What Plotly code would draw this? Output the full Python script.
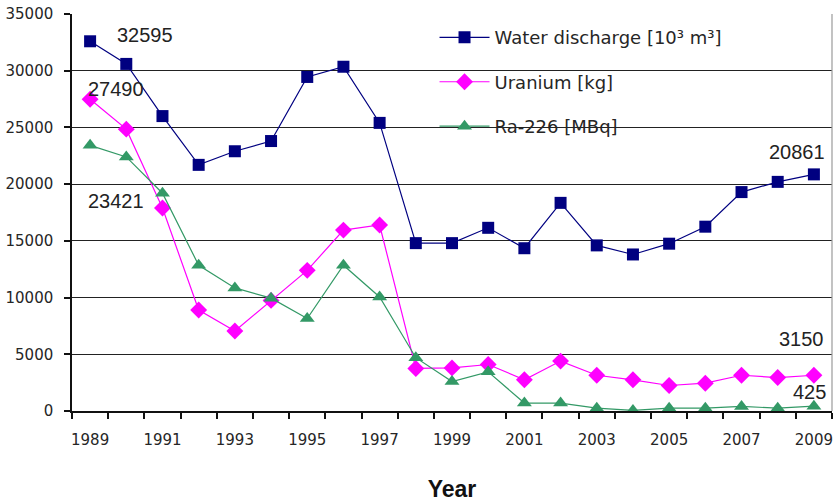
import plotly.graph_objects as go

# Annual discharge and load figures, 1989-2009
years = list(range(1989, 2010))
water_discharge = [32595, 30600, 26000, 21700, 22900, 23800, 29450, 30350, 25400, 14800,
                   14800, 16150, 14350, 18350, 14600, 13800, 14750, 16250, 19300, 20200, 20861]
uranium = [27490, 24850, 17900, 8900, 7050, 9750, 12400, 15950, 16400, 3750,
           3800, 4100, 2750, 4400, 3150, 2750, 2250, 2450, 3150, 2950, 3150]
radium = [23421, 22400, 19200, 12850, 10850, 9950, 8150, 12850, 10050, 4700,
          2600, 3450, 700, 700, 250, 50, 250, 250, 400, 250, 425]

series_names = ["Water discharge [10³ m³]", "Uranium [kg]", "Ra-226 [MBq]"]
series_colors = ["#000080", "#FF00FF", "#339966"]
series_symbols = ["square", "diamond", "triangle-up"]
series_sizes = [12, 13, 13]
x_labels = [str(y) for y in range(1989, 2010, 2)]

fig = go.Figure()
for i, vals in enumerate([water_discharge, uranium, radium]):
    fig.add_trace(go.Scatter(
        x=years, y=vals, mode="lines+markers", name=series_names[i],
        legendgroup=f"g{i}",
        line=dict(color=series_colors[i], width=1.2),
        marker=dict(symbol=series_symbols[i], size=series_sizes[i], color=series_colors[i]),
    ))

# Value labels on the first and last points
label_font = dict(family="Liberation Sans, Arial", size=20, color="#222222")
labels = [
    (years[0], water_discharge[0], 55, 6),
    (years[0], uranium[0], 26, 10),
    (years[0], radium[0], 26, -56),
    (years[-1], water_discharge[-1], -17, 22),
    (years[-1], uranium[-1], -12, 36),
    (years[-1], radium[-1], -4, 14),
]
for x, y, dx, dy in labels:
    fig.add_annotation(x=x, y=y, text=str(y), showarrow=False, xshift=dx, yshift=dy,
                       font=label_font)

# White panel under the legend so the gridlines break there
fig.add_shape(type="rect", xref="paper", yref="paper", x0=0.477, x1=0.858, y0=0.695, y1=1.01,
              fillcolor="white", line=dict(width=0), layer="between")
# Light frame line on the right edge of the plot area
fig.add_shape(type="line", xref="paper", yref="paper", x0=1, x1=1, y0=0, y1=1,
              line=dict(color="#9a9a9a", width=1.2), layer="above")

tick_font = dict(family="DejaVu Sans", size=15, color="#262626")
fig.update_layout(
    width=835, height=503,
    margin=dict(l=72, r=3, t=14, b=92),
    plot_bgcolor="white", paper_bgcolor="white",
    showlegend=True,
    legend=dict(x=0.477, y=0.987, xanchor="left", yanchor="top",
                bgcolor="rgba(0,0,0,0)", tracegroupgap=18, itemwidth=50,
                font=dict(family="DejaVu Sans", size=18, color="#262626")),
    xaxis=dict(
        range=[1988.5, 2009.5],
        tickmode="array", tickvals=list(range(1989, 2010, 2)), ticktext=x_labels,
        ticks="", showgrid=False, zeroline=False,
        showline=True, linecolor="#111111", linewidth=1.5,
        tickfont=tick_font, ticklabelstandoff=14,
        minor=dict(ticks="outside", tick0=1988.5, dtick=1, ticklen=6,
                   tickcolor="#111111", tickwidth=1.5, showgrid=False),
        title=dict(text="Year", font=dict(family="Liberation Sans, Arial", size=23,
                                          color="#111111", weight="bold"), standoff=33),
    ),
    yaxis=dict(
        range=[0, 35000], tick0=0, dtick=5000, tickformat="d",
        ticks="outside", ticklen=6, tickcolor="#111111", tickwidth=1.5,
        showgrid=True, gridcolor="#222222", gridwidth=1.3, zeroline=False,
        showline=True, linecolor="#111111", linewidth=1.5,
        tickfont=tick_font, ticklabelstandoff=8,
    ),
)

fig.write_html("out.html")
